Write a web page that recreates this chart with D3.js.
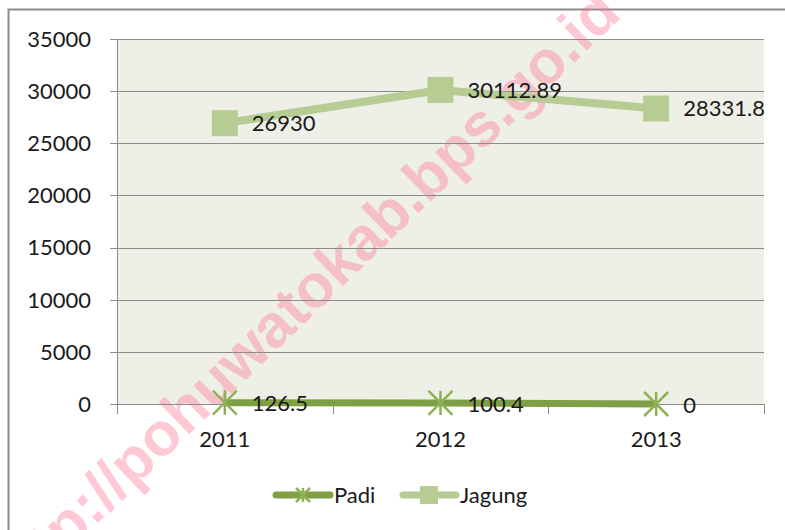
<!DOCTYPE html>
<html>
<head>
    <meta charset="utf-8">
    <title>Padi dan Jagung</title>
    <style>
        body { margin: 0; background: #fff; font-family: Lato, "Open Sans", sans-serif; }
        .grid line { stroke: #8c8c8c; stroke-width: 1px; shape-rendering: crispEdges; }
        .lbl { font-size: 22px; fill: #1a1a1a; }
    </style>
    <script src="https://d3js.org/d3.v7.min.js"></script>
</head>
<body>
<svg id="chart"></svg>
<script>
    //data
    var years = ["2011", "2012", "2013"],
        padi = [126.5, 100.4, 0],
        jagung = [26930, 30112.89, 28331.8],
        padiLabels = ["126.5", "100.4", "0"],
        jagungLabels = ["26930", "30112.89", "28331.8"],
        yTicks = [0, 5000, 10000, 15000, 20000, 25000, 30000, 35000];

    var W = 785, H = 530,
        pL = 117, pR = 764, pT = 39, pB = 404,
        cPadi = "#7f9f45", cPadiMk = "#8db255", cJag = "#b6cc92";

    var svg = d3.select("#chart").attr("width", W).attr("height", H);

    //outer frame
    svg.append("rect").attr("x", 8.5).attr("y", 9.5).attr("width", 800).attr("height", 600)
        .attr("fill", "#fff").attr("stroke", "#8a8a8a").attr("stroke-width", 2);

    var x = d3.scaleBand().domain(years).range([pL, pR]),
        y = d3.scaleLinear().domain([0, 35000]).range([pB, pT]);

    //plot area
    svg.append("rect").attr("x", pL).attr("y", pT).attr("width", pR - pL).attr("height", pB - pT)
        .attr("fill", "#eef0e8");

    //watermark (under the chart lines, like the reference)
    var wm = svg.append("text").attr("transform", "translate(302,296) rotate(-44)")
        .attr("text-anchor", "middle").attr("dy", "0.35em")
        .style("font-family", "'Liberation Sans', Arial, sans-serif").style("font-weight", "bold")
        .style("font-size", "61px").attr("fill", "#ff6f91").attr("fill-opacity", 0.38)
        .text("http://pohuwatokab.bps.go.id");

    //gridlines + y axis
    var g = svg.append("g").attr("class", "grid");
    g.selectAll("line.h").data(yTicks).enter().append("line").attr("class", "h")
        .attr("x1", pL - 7).attr("x2", pR)
        .attr("y1", function(d){ return Math.round(y(d)) + 0.5; })
        .attr("y2", function(d){ return Math.round(y(d)) + 0.5; });
    g.append("line").attr("x1", pL + 0.5).attr("x2", pL + 0.5).attr("y1", pT).attr("y2", pB + 10);
    var bounds = years.map(function(d){ return x(d); }).concat([pR]);
    g.selectAll("line.v").data(bounds.slice(1)).enter().append("line").attr("class", "v")
        .attr("x1", function(d){ return Math.round(d) + 0.5; })
        .attr("x2", function(d){ return Math.round(d) + 0.5; })
        .attr("y1", pB).attr("y2", pB + 10);

    //tick labels
    svg.append("g").selectAll("text").data(yTicks).enter().append("text")
        .attr("class", "lbl").attr("text-anchor", "end")
        .attr("x", 91).attr("y", function(d){ return y(d); }).attr("dy", "0.36em")
        .text(function(d){ return d; });
    svg.append("g").selectAll("text").data(years).enter().append("text")
        .attr("class", "lbl").attr("text-anchor", "middle")
        .attr("x", function(d){ return x(d) + x.bandwidth() / 2; }).attr("y", 447)
        .text(function(d){ return d; });

    var cx = function(d, i){ return x(years[i]) + x.bandwidth() / 2; };
    var line = d3.line().x(function(d, i){ return cx(d, i); }).y(function(d){ return y(d); });

    //Jagung
    svg.append("path").datum(jagung).attr("d", line).attr("fill", "none")
        .attr("stroke", cJag).attr("stroke-width", 8);
    svg.append("g").selectAll("rect").data(jagung).enter().append("rect")
        .attr("x", function(d, i){ return cx(d, i) - 13; })
        .attr("y", function(d){ return y(d) - 13; })
        .attr("width", 26).attr("height", 26).attr("fill", cJag);

    //Padi
    function star(sel, s, c) {
        sel.append("line").attr("x1", 0).attr("x2", 0).attr("y1", -s).attr("y2", s);
        sel.append("line").attr("x1", -s).attr("x2", s).attr("y1", -s).attr("y2", s);
        sel.append("line").attr("x1", -s).attr("x2", s).attr("y1", s).attr("y2", -s);
        sel.attr("stroke", c).attr("stroke-width", 2.5);
    }
    svg.append("path").datum(padi).attr("d", line).attr("fill", "none")
        .attr("stroke", cPadi).attr("stroke-width", 7);
    svg.append("g").selectAll("g").data(padi).enter().append("g")
        .attr("transform", function(d, i){ return "translate(" + cx(d, i) + "," + y(d) + ")"; })
        .call(star, 12, cPadiMk);

    //data labels
    svg.append("g").selectAll("text").data(jagung).enter().append("text")
        .attr("class", "lbl").attr("x", function(d, i){ return cx(d, i) + 27; })
        .attr("y", function(d){ return y(d); }).attr("dy", "0.36em")
        .text(function(d, i){ return jagungLabels[i]; });
    svg.append("g").selectAll("text").data(padi).enter().append("text")
        .attr("class", "lbl").attr("x", function(d, i){ return cx(d, i) + 27; })
        .attr("y", function(d){ return y(d); }).attr("dy", "0.4em")
        .text(function(d, i){ return padiLabels[i]; });

    //legend
    var lg = svg.append("g");
    lg.append("line").attr("x1", 276).attr("x2", 330).attr("y1", 495).attr("y2", 495)
        .attr("stroke", cPadi).attr("stroke-width", 7).attr("stroke-linecap", "round");
    lg.append("g").attr("transform", "translate(303,495)").call(star, 7, cPadiMk);
    lg.append("text").attr("class", "lbl").attr("x", 334).attr("y", 503).text("Padi");
    lg.append("line").attr("x1", 403).attr("x2", 456).attr("y1", 495).attr("y2", 495)
        .attr("stroke", cJag).attr("stroke-width", 7).attr("stroke-linecap", "round");
    lg.append("rect").attr("x", 420).attr("y", 486).attr("width", 18).attr("height", 18).attr("fill", cJag);
    lg.append("text").attr("class", "lbl").attr("x", 460).attr("y", 503).text("Jagung");
</script>
</body>
</html>
